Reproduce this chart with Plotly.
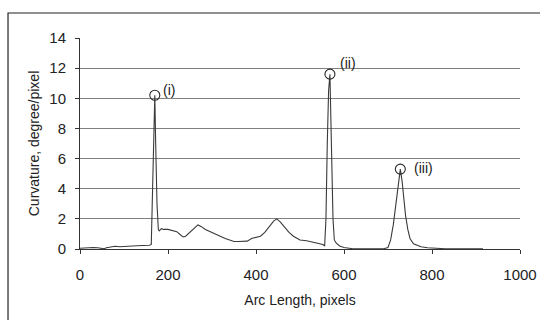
import plotly.graph_objects as go

arc_length = [0, 10, 20, 30, 40, 50, 55, 60, 70, 80, 90, 100, 110, 120, 130, 140, 150, 158,
              162, 165, 168, 170, 172, 175, 178, 180, 185, 190, 200, 210, 220, 230, 235, 240,
              250, 260, 268, 275, 285, 300, 310, 320, 330, 340, 350, 360, 370, 380, 390, 400,
              410, 420, 430, 440, 447, 455, 465, 475, 485, 500, 515, 530, 545, 552, 556, 559,
              562, 565, 568, 570, 572, 575, 578, 582, 590, 600, 620, 650, 690, 700, 706, 712,
              718, 722, 726, 728, 732, 736, 740, 745, 750, 758, 765, 775, 790, 805, 830, 870, 916]
curvature = [0.05, 0.08, 0.08, 0.1, 0.08, 0.03, 0.02, 0.08, 0.15, 0.18, 0.15, 0.15, 0.2, 0.2, 0.22, 0.22, 0.25, 0.25,
             0.3, 4.0, 9.5, 10.2, 7.0, 3.0, 1.3, 1.2, 1.35, 1.3, 1.3, 1.25, 1.15, 0.9, 0.8, 0.85,
             1.1, 1.4, 1.6, 1.5, 1.3, 1.1, 0.95, 0.85, 0.7, 0.6, 0.5, 0.5, 0.5, 0.52, 0.7, 0.75,
             0.85, 1.1, 1.5, 1.85, 2.0, 1.8, 1.45, 1.1, 0.85, 0.6, 0.55, 0.45, 0.35, 0.3, 0.2, 2.0,
             7.0, 10.5, 11.6, 9.0, 6.0, 2.0, 0.6, 0.4, 0.2, 0.1, 0.02, 0.0, 0.02, 0.1, 0.6, 1.6,
             3.0, 4.2, 5.1, 5.3, 4.5, 3.2, 2.2, 1.3, 0.7, 0.35, 0.25, 0.15, 0.08, 0.05, 0.02, 0.02, 0.02]

peak_x = [170, 568, 728]
peak_y = [10.2, 11.6, 5.3]
peak_labels = ["(i)", "(ii)", "(iii)"]
label_shift_x = [6, 8, 12]
label_shift_y = [5, 11, 1]

x_ticks = [0, 200, 400, 600, 800, 1000]
y_ticks = [0, 2, 4, 6, 8, 10, 12, 14]

fig = go.Figure()
fig.add_trace(go.Scatter(x=arc_length, y=curvature, mode="lines",
                         line=dict(color="#3a3a3a", width=1.1), showlegend=False))
fig.add_trace(go.Scatter(x=peak_x, y=peak_y, mode="markers",
                         marker=dict(symbol="circle-open", size=10, color="#2a2a2a",
                                     line=dict(width=1.1)), showlegend=False))

for px, py, lab, sx, sy in zip(peak_x, peak_y, peak_labels, label_shift_x, label_shift_y):
    fig.add_annotation(x=px, y=py, text=lab, showarrow=False, xanchor="left", yanchor="middle",
                       xshift=sx, yshift=sy, font=dict(size=14, color="#222222"))

# outer border of chart box
fig.add_shape(type="rect", xref="paper", yref="paper", x0=-0.1636, x1=1.2, y0=-0.6, y1=1.1185,
              line=dict(color="#222222", width=1.2), fillcolor="rgba(0,0,0,0)", layer="below")

fig.update_layout(
    width=540, height=320,
    margin=dict(l=80, r=20, t=38, b=71, autoexpand=False),
    paper_bgcolor="white", plot_bgcolor="white",
    font=dict(family="Liberation Sans, Arial, sans-serif", size=15, color="#222222"),
    showlegend=False,
)
fig.update_xaxes(range=[0, 1000], tickvals=x_ticks, showgrid=False, zeroline=False, automargin=False,
                 showline=True, linecolor="#333333", linewidth=1, ticks="outside", ticklen=4,
                 tickcolor="#333333", ticklabelstandoff=8, tickfont=dict(size=15),
                 title=dict(text="Arc Length, pixels", font=dict(size=14), standoff=13))
fig.update_yaxes(range=[0, 14], tickvals=y_ticks, showgrid=True, gridcolor="#808080", gridwidth=1,
                 zeroline=False, showline=True, linecolor="#333333", linewidth=1, ticks="outside",
                 automargin=False,
                 ticklen=4, tickcolor="#333333", ticklabelstandoff=6, tickfont=dict(size=15),
                 title=dict(text="Curvature, degree/pixel", font=dict(size=14), standoff=6))

fig.write_html("out.html", config={"displayModeBar": False},
               post_script="document.body.style.margin='0';document.body.style.overflow='hidden';")
